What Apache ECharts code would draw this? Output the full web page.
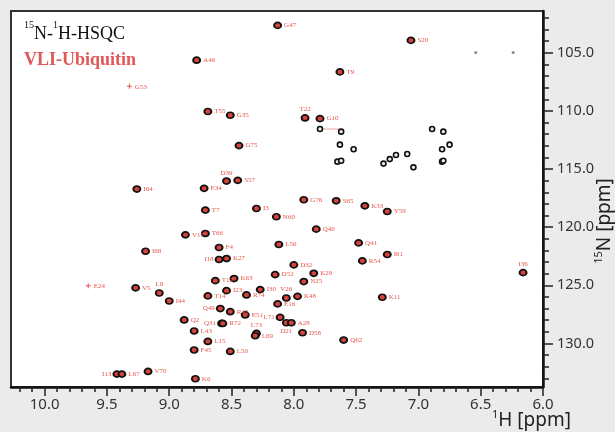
<!DOCTYPE html>
<html>
<head>
<meta charset="utf-8">
<script src="https://cdn.jsdelivr.net/npm/echarts@6/dist/echarts.min.js"></script>
<style>
  html, body { margin: 0; padding: 0; background: #ebebeb; }
  #chart { width: 615px; height: 432px; }
</style>
</head>
<body>
<div id="chart"></div>
<script>
// assigned backbone amide peaks: name, 1H shift, 15N shift
const peakNames = ['G47','S20','A46','T9','T55','G35','G75','T22','G10','D39','S57','I64','E34','G76','S65','K33','Y59','T7','I3','N60','Q40','T66','V17','F4','L56','Q41','I68','I61','I18','K27','R54','D32','K29','D52','T12','K63','N25','I36','V5','L8','T14','I23','I30','R74','V26','K48','K11','I44','E16','Q49','R42','E51','L71','D21','A28','Q2','Q31','R72','L73','L69','D58','L43','Q62','L15','F45','L50','I13','L67','V70','K6'];
const peakH = [8.13,7.06,8.78,7.63,8.69,8.51,8.44,7.91,7.79,8.54,8.45,9.26,8.72,7.92,7.66,7.43,7.25,8.71,8.30,8.14,7.82,8.71,8.87,8.60,8.12,7.48,9.19,7.25,8.60,8.54,7.45,8.00,7.84,8.15,8.63,8.48,7.92,6.16,9.27,9.08,8.69,8.54,8.27,8.38,8.06,7.97,7.29,9.00,8.13,8.59,8.51,8.39,8.11,8.06,8.02,8.88,8.58,8.57,8.30,8.31,7.93,8.80,7.60,8.69,8.80,8.51,9.42,9.38,9.17,8.79];
const peakN = [102.64,103.93,105.63,106.64,110.05,110.37,112.98,110.60,110.66,116.03,115.97,116.72,116.66,117.64,117.73,118.16,118.65,118.53,118.39,119.10,120.17,120.54,120.66,121.75,121.49,121.35,122.07,122.35,122.78,122.70,122.90,123.24,123.97,124.08,124.60,124.42,124.68,123.91,125.22,125.66,125.91,125.46,125.37,125.83,126.09,125.95,126.03,126.35,126.60,127.00,127.27,127.55,127.76,128.22,128.22,127.98,128.28,128.28,129.14,129.34,129.08,128.93,129.71,129.83,130.57,130.69,132.64,132.64,132.41,133.04];

// peaks below contour level, marked with a cross
const crossNames = ['G53','E24'];
const crossH = [9.32,9.65];
const crossN = [107.87,125.03];

// side-chain NH2 peaks (unassigned)
const sideH = [7.79,7.62,7.63,7.52,7.65,7.62,7.28,7.23,7.18,7.09,7.04,6.89,6.80,6.75,6.81,6.81,6.80];
const sideN = [111.55,111.78,112.90,113.30,114.36,114.28,114.53,114.14,113.79,113.70,114.85,111.55,111.78,112.90,113.30,114.36,114.28];

// weak folded peaks
const weakH = [6.54,6.24];
const weakN = [104.97,104.97];

const xTicks = [6.0,6.5,7.0,7.5,8.0,8.5,9.0,9.5,10.0];
const yTicks = [105,110,115,120,125,130];

// label placement (style only)
const labelPlace = {
  T22: 'top', D39: 'top', L8: 'top', I36: 'top', L73: 'top', V26: 'top',
  I18: 'left', Q49: 'left', Q31: 'left', L71: 'left', I13: 'left', D21: 'bottom'
};

const xMinor = [];
for (let i = 60; i <= 102; i++) if (i % 5) xMinor.push(i / 10);
const yMinor = [];
for (let i = 102; i <= 133; i++) if (i % 5) yMinor.push(i);

const red = '#e8574e';
const labelFont = { fontFamily: 'Liberation Serif', fontSize: 7, color: red };

const peakData = peakNames.map((name, i) => {
  const pos = labelPlace[name] || 'right';
  return {
    name,
    value: [peakH[i], peakN[i]],
    label: { position: pos, distance: pos === 'right' ? 2 : 1, offset: pos === 'right' ? [0, 1] : [0, 0] }
  };
});

const chart = echarts.init(document.getElementById('chart'));

const xBase = {
  type: 'value', min: 6, max: 10.27, inverse: true, position: 'bottom',
  splitLine: { show: false }
};
const yBase = {
  type: 'value', min: 101.4, max: 133.75, inverse: true, position: 'right',
  splitLine: { show: false }
};

// superscript + main text, sans for axis names
const supRich = (family, sSize, mSize, mLine, color) => ({
  s: { fontFamily: family, fontSize: sSize, lineHeight: sSize, verticalAlign: 'top', fill: color },
  m: { fontFamily: family, fontSize: mSize, lineHeight: mLine, verticalAlign: 'bottom', fill: color }
});

chart.setOption({
  backgroundColor: '#ebebeb',
  animation: false,
  grid: {
    show: true, left: 11, right: 72, top: 11, bottom: 45,
    backgroundColor: '#fff', borderColor: '#333', borderWidth: 2
  },
  xAxis: [
    Object.assign({}, xBase, {
      axisLine: { lineStyle: { color: '#111', width: 2.5 } },
      axisTick: { customValues: xTicks, length: 9, lineStyle: { color: '#222', width: 1.5 } },
      axisLabel: {
        customValues: xTicks, formatter: v => v.toFixed(1), margin: 10,
        fontFamily: 'Noto Sans', fontSize: 15, color: '#333'
      }
    }),
    Object.assign({}, xBase, {
      axisLine: { show: false },
      axisTick: { customValues: xMinor, length: 5, lineStyle: { color: '#222', width: 1.5 } },
      axisLabel: { show: false }
    })
  ],
  yAxis: [
    Object.assign({}, yBase, {
      axisLine: { lineStyle: { color: '#111', width: 2.5 } },
      axisTick: { customValues: yTicks, length: 10, lineStyle: { color: '#222', width: 1.5 } },
      axisLabel: {
        customValues: yTicks, formatter: v => v.toFixed(1), margin: 14,
        fontFamily: 'Noto Sans', fontSize: 14.5, color: '#333'
      }
    }),
    Object.assign({}, yBase, {
      axisLine: { show: false },
      axisTick: { customValues: yMinor, length: 6, lineStyle: { color: '#222', width: 1.5 } },
      axisLabel: { show: false }
    })
  ],
  graphic: [
    {
      type: 'text', left: 24, top: 20.5,
      style: {
        text: '{s|15}{m|N-}{s|1}{m|H-HSQC}',
        rich: supRich('Liberation Serif', 10, 18, 23, '#111')
      }
    },
    {
      type: 'text', left: 24, top: 51,
      style: { text: 'VLI-Ubiquitin', font: 'bold 18px "Liberation Serif"', fill: '#e05858' }
    },
    {
      type: 'text', left: 492, top: 409,
      style: {
        text: '{s|1}{m|H [ppm]}',
        rich: supRich('Noto Sans', 11, 19, 21, '#222')
      }
    },
    {
      type: 'text', x: 604, y: 221, rotation: Math.PI / 2,
      style: {
        text: '{s|15}{m|N [ppm]}', align: 'center', verticalAlign: 'middle',
        rich: supRich('Noto Sans', 11, 19, 21, '#222')
      }
    }
  ],
  series: [
    {
      type: 'line',
      data: [[7.79, 111.55], [7.63, 111.55]],
      symbol: 'none',
      lineStyle: { color: '#f2a0a0', width: 1 },
      z: 1
    },
    {
      type: 'scatter',
      data: sideH.map((h, i) => [h, sideN[i]]),
      symbolSize: 5,
      itemStyle: { color: '#eee', borderColor: '#111', borderWidth: 1.6, opacity: 1 }
    },
    {
      type: 'scatter',
      data: weakH.map((h, i) => [h, weakN[i]]),
      symbolSize: 3,
      itemStyle: { color: '#888', opacity: 1 }
    },
    {
      type: 'scatter',
      data: crossNames.map((name, i) => ({ name, value: [crossH[i], crossN[i]] })),
      symbol: 'path://M0,4L10,4L10,6L0,6Z M4,0L6,0L6,10L4,10Z',
      symbolSize: 5,
      itemStyle: { color: red, opacity: 1 },
      label: Object.assign({ show: true, position: 'right', distance: 3, offset: [0, 1], formatter: '{b}' }, labelFont)
    },
    {
      type: 'scatter',
      data: peakData,
      symbolSize: [7, 6],
      itemStyle: { color: '#d8433a', borderColor: '#111', borderWidth: 1.8, opacity: 1 },
      label: Object.assign({ show: true, formatter: '{b}' }, labelFont),
      labelLayout: { hideOverlap: false }
    }
  ]
});
</script>
</body>
</html>
